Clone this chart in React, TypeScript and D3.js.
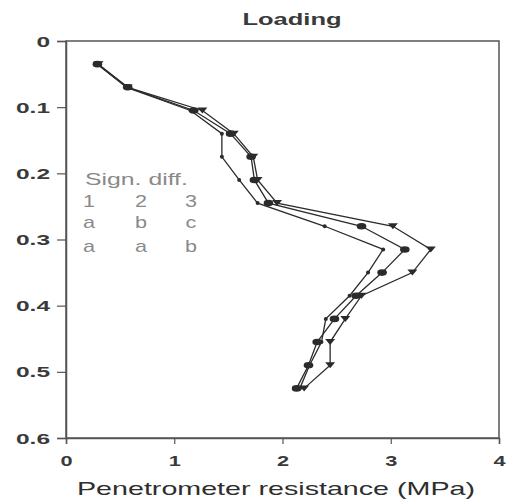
import React from 'react';
import * as d3 from 'd3';

// depth (m) of each reading, shared by the three series
const depths = [0.035, 0.07, 0.105, 0.14, 0.175, 0.21, 0.245, 0.28, 0.315, 0.35, 0.385, 0.42, 0.455, 0.49, 0.525];

// penetrometer resistance (MPa)
const series1 = [0.29, 0.56, 1.15, 1.44, 1.44, 1.60, 1.77, 2.39, 2.93, 2.79, 2.62, 2.40, 2.36, 2.25, 2.16];
const series2 = [0.29, 0.57, 1.18, 1.52, 1.71, 1.74, 1.87, 2.73, 3.13, 2.92, 2.68, 2.48, 2.32, 2.24, 2.13];
const series3 = [0.30, 0.57, 1.26, 1.55, 1.73, 1.77, 1.95, 3.02, 3.37, 3.20, 2.73, 2.58, 2.44, 2.44, 2.20];

const xTicks = [0, 1, 2, 3, 4];
const yTicks = [0, 0.1, 0.2, 0.3, 0.4, 0.5, 0.6];

const legendTitle = 'Sign. diff.';
const legendRows = [
  ['1', '2', '3'],
  ['a', 'b', 'c'],
  ['a', 'a', 'b'],
];

const W = 508;
const H = 499;
const margin = { top: 41, right: 9, bottom: 60, left: 66 };

const App: React.FC = () => {
  const ref = React.useRef<SVGSVGElement>(null);

  React.useEffect(() => {
    if (!ref.current) return;
    const svg = d3.select(ref.current);
    svg.selectAll('*').remove();

    const x = d3.scaleLinear().domain([0, 4]).range([margin.left, W - margin.right]);
    const y = d3.scaleLinear().domain([0, 0.6]).range([margin.top, H - margin.bottom - 1]);
    const ink = '#2b2b2b';
    const font = 'Liberation Sans, Arial, sans-serif';

    // the original uses an extended grotesque, so text is widened horizontally
    const wideText = (g: d3.Selection<SVGGElement, unknown, null, undefined>, tx: number, ty: number, sx: number) =>
      g.append('g').attr('transform', `translate(${tx},${ty}) scale(${sx},1)`).append('text');

    // frame
    svg.append('rect')
      .attr('x', x(0)).attr('y', y(0))
      .attr('width', x(4) - x(0)).attr('height', y(0.6) - y(0))
      .attr('fill', 'none').attr('stroke', '#555').attr('stroke-width', 1.5);

    const yAxis = svg.append('g')
      .attr('transform', `translate(${x(0)},0)`)
      .call(d3.axisLeft(y).tickValues(yTicks).tickSize(9).tickPadding(0)
        .tickFormat(d => (d === 0 ? '0' : d3.format('.1f')(d as number))));
    const xAxis = svg.append('g')
      .attr('transform', `translate(0,${y(0.6)})`)
      .call(d3.axisBottom(x).tickValues(xTicks).tickSize(6).tickPadding(0).tickFormat(d3.format('d')));

    [xAxis, yAxis].forEach(g => {
      g.select('.domain').attr('stroke', '#555').attr('stroke-width', 1.5);
      g.selectAll('.tick line').attr('stroke', '#555').attr('stroke-width', 1.2);
      g.selectAll('.tick text')
        .attr('fill', '#3a3a3a')
        .style('font-family', font)
        .style('font-weight', 'bold');
    });
    yAxis.selectAll('.tick text')
      .style('font-size', '14px')
      .attr('x', -16 / 1.75)
      .attr('dy', '0.36em')
      .attr('transform', 'scale(1.75,1)');
    xAxis.selectAll('.tick text')
      .style('font-size', '15px')
      .attr('y', 17)
      .attr('dy', '0.71em')
      .attr('transform', 'scale(1.45,1)');

    // title
    wideText(svg as any, 292, 25, 1.5)
      .attr('text-anchor', 'middle')
      .attr('fill', '#3a3a3a')
      .style('font-family', font).style('font-size', '17px').style('font-weight', 'bold')
      .text('Loading');

    // x label
    svg.append('text')
      .attr('x', 276).attr('y', 495)
      .attr('text-anchor', 'middle')
      .attr('fill', '#2e2e2e')
      .attr('textLength', 398).attr('lengthAdjust', 'spacingAndGlyphs')
      .style('font-family', font).style('font-size', '19px')
      .text('Penetrometer resistance (MPa)');

    // legend
    const leg = svg.append('g').attr('fill', '#8a8a8a').style('font-family', font).style('font-size', '16px');
    wideText(leg as any, 85, 185, 1.55).text(legendTitle);
    const colX = [89, 141, 191];
    const rowY = [207, 228, 252];
    legendRows.forEach((row, ri) => {
      row.forEach((t, ci) => {
        wideText(leg as any, colX[ci], rowY[ri], 1.35).attr('text-anchor', 'middle').text(t);
      });
    });

    const line = d3.line<[number, number]>().x(d => x(d[0])).y(d => y(d[1]));
    const all = [series1, series2, series3];
    all.forEach(s => {
      const pts = s.map((v, i) => [v, depths[i]] as [number, number]);
      svg.append('path').attr('d', line(pts)).attr('fill', 'none').attr('stroke', ink).attr('stroke-width', 1.3);
    });

    // series 1: small dots
    svg.append('g').selectAll('circle').data(series1.map((v, i) => [v, depths[i]]))
      .join('circle')
      .attr('cx', d => x(d[0])).attr('cy', d => y(d[1])).attr('r', 2).attr('fill', ink);

    // series 2: filled ellipses
    svg.append('g').selectAll('ellipse').data(series2.map((v, i) => [v, depths[i]]))
      .join('ellipse')
      .attr('cx', d => x(d[0])).attr('cy', d => y(d[1])).attr('rx', 4.8).attr('ry', 3.3).attr('fill', ink);

    // series 3: downward triangles
    svg.append('g').selectAll('path').data(series3.map((v, i) => [v, depths[i]]))
      .join('path')
      .attr('transform', d => `translate(${x(d[0])},${y(d[1])})`)
      .attr('d', 'M-5,-3L5,-3L0,3Z').attr('fill', ink);
  }, []);

  return (
    <svg ref={ref} width={W} height={H}
      style={{ position: 'absolute', left: 0, top: 0, background: '#fff' }} />
  );
};

export default App;
